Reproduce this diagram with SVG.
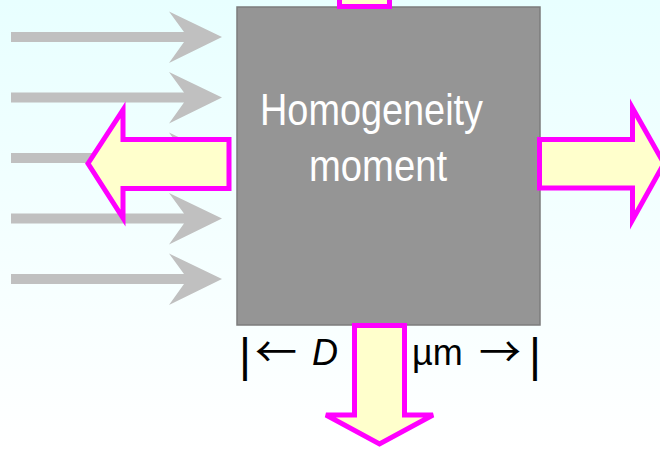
<svg xmlns="http://www.w3.org/2000/svg" width="660" height="451" viewBox="0 0 660 451">
  <defs>
    <linearGradient id="bg" x1="0" y1="0" x2="0" y2="1">
      <stop offset="0" stop-color="#E8FFFF"/>
      <stop offset="1" stop-color="#FFFFFF"/>
    </linearGradient>
    <polygon id="grayArrow" points="11,-5 184,-5 169,-25.5 222,0 169,26 184,5 11,5" fill="#C0C0C0"/>
    <style>
      .flow { fill: #FFFFCC; stroke: #FF00FF; stroke-width: 5; stroke-linejoin: miter; }
      .label { font-family: "Liberation Sans Narrow", "Liberation Sans", Arial, sans-serif; font-size: 44px; fill: #FFFFFF; }
      .dim { font-family: "Liberation Sans", Arial, sans-serif; font-size: 36px; fill: #000000; }
      .bar { font-family: "Liberation Sans", Arial, sans-serif; font-size: 46px; fill: #000000; }
      .arr { font-family: "Noto Sans CJK SC", "DejaVu Sans", sans-serif; font-size: 42px; fill: #000000; }
    </style>
  </defs>
  <rect x="0" y="0" width="660" height="451" fill="url(#bg)"/>

  <g id="incoming">
    <use href="#grayArrow" transform="translate(0,37)"/>
    <use href="#grayArrow" transform="translate(0,97.5)"/>
    <use href="#grayArrow" transform="translate(0,158)"/>
    <use href="#grayArrow" transform="translate(0,218.5)"/>
    <use href="#grayArrow" transform="translate(0,279)"/>
  </g>

  <g id="box">
    <rect x="237" y="7" width="303" height="318" fill="#959595" stroke="#7C7C7C" stroke-width="1.5"/>
    <text class="label" x="260" y="125" textLength="223" lengthAdjust="spacingAndGlyphs">Homogeneity</text>
    <text class="label" x="309" y="181" textLength="138" lengthAdjust="spacingAndGlyphs">moment</text>
  </g>

  <g id="connectors">
    <rect class="flow" x="339.5" y="-10" width="50" height="16.5"/>
    <polygon class="flow" points="88,163.5 123,110 123,139.5 229,139.5 229,188.5 123,188.5 123,218"/>
    <polygon class="flow" points="539.5,139.5 632.5,139.5 632.5,108 664,163.5 632.5,220 632.5,188 539.5,188"/>
    <polygon class="flow" points="354.5,325.5 404.5,325.5 404.5,415 433,415 379.5,444 326,415 354.5,415"/>
  </g>

  <g id="dimension">
    <text class="bar" x="239" y="371">|</text>
    <text class="arr" x="255" y="367">←</text>
    <text class="dim" x="312" y="365" font-style="italic">D</text>
    <text class="dim" x="412" y="365">µm</text>
    <text class="arr" x="479" y="367">→</text>
    <text class="bar" x="529" y="371">|</text>
  </g>
</svg>
